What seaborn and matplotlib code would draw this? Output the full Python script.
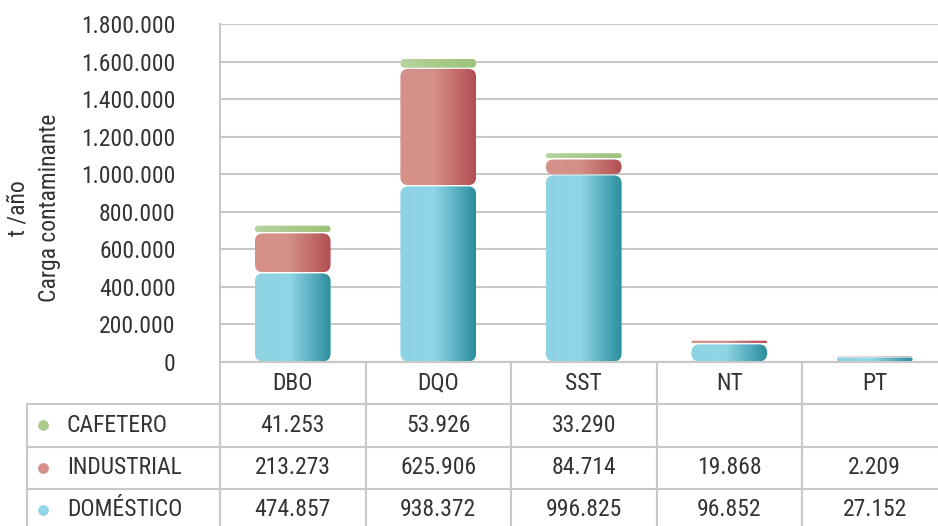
import matplotlib
matplotlib.use('Agg')
import matplotlib.pyplot as plt
import numpy as np
import pandas as pd
import seaborn as sns
from matplotlib import font_manager
from matplotlib.colors import LinearSegmentedColormap
from matplotlib.patches import FancyBboxPatch
from matplotlib.table import Table
from matplotlib.ticker import FuncFormatter, MultipleLocator

categorias = ['DBO', 'DQO', 'SST', 'NT', 'PT']
cafetero = [41253, 53926, 33290, None, None]
industrial = [213273, 625906, 84714, 19868, 2209]
domestico = [474857, 938372, 996825, 96852, 27152]

# orden de la tabla (arriba -> abajo) y orden de apilado (abajo -> arriba)
sectores = ['CAFETERO', 'INDUSTRIAL', 'DOMÉSTICO']
apilado = ['DOMÉSTICO', 'INDUSTRIAL', 'CAFETERO']
valores = {'CAFETERO': cafetero, 'INDUSTRIAL': industrial, 'DOMÉSTICO': domestico}

colores = {'CAFETERO': ['#b6d49e', '#aacb8c', '#9dc27b'],
           'INDUSTRIAL': ['#d5918a', '#d48f88', '#b24e51'],
           'DOMÉSTICO': ['#8dd3e3', '#90d6e6', '#2a8e9e']}

GRIS = '#c8c8c8'
TEXTO = '#333333'
TAM = 17


def miles(v):
    return '' if v is None else '{:,}'.format(int(v)).replace(',', '.')


sns.set_style('white')
disponibles = {f.name for f in font_manager.fontManager.ttflist}
fuente = next((f for f in ['Liberation Sans Narrow', 'Roboto Condensed', 'Roboto']
               if f in disponibles), 'DejaVu Sans')
plt.rcParams['font.family'] = [fuente, 'DejaVu Sans']

# dataframe largo con base y tope de cada tramo apilado
filas = []
for i, cat in enumerate(categorias):
    base = 0
    for sector in apilado:
        v = valores[sector][i]
        filas.append({'categoria': cat, 'sector': sector, 'valor': v,
                      'base': base, 'tope': base + (v or 0)})
        base += v or 0
df = pd.DataFrame(filas)

fig = plt.figure(figsize=(9.38, 5.26), dpi=100)
ax = fig.add_axes([220 / 938, 1 - 362 / 526, 727.5 / 938, 338 / 526])

sns.barplot(data=df, x='categoria', y='tope', hue='sector', hue_order=sectores,
            order=categorias, dodge=False, width=0.52, legend=False, ax=ax)

ax.set_ylim(0, 1800000)
ax.set_xlim(-0.5, 4.5)
ax.yaxis.set_major_locator(MultipleLocator(200000))
ax.yaxis.set_major_formatter(FuncFormatter(lambda v, p: miles(v)))
ax.tick_params(axis='y', length=0, pad=32, labelsize=TAM, labelcolor=TEXTO)
ax.set_xticks([])
ax.set_xlabel('')
ax.set_ylabel('')
ax.grid(axis='y', color=GRIS, lw=1.5)
ax.set_axisbelow(True)
for lado in ['top', 'right']:
    ax.spines[lado].set_visible(False)
for lado in ['left', 'bottom']:
    ax.spines[lado].set_color(GRIS)
    ax.spines[lado].set_linewidth(1.5)

# escala en pixeles para esquinas redondeadas y separaciones
p0 = ax.transData.transform((0, 0))
p1 = ax.transData.transform((1, 1))
px_x = p1[0] - p0[0]
px_y = p1[1] - p0[1]
gradiente = np.linspace(0, 1, 256).reshape(1, -1)

for sector, contenedor in zip(sectores, ax.containers):
    cmap = LinearSegmentedColormap.from_list(
        sector, list(zip([0, 0.45, 1], colores[sector])))
    for barra in contenedor:
        barra.set_visible(False)
        j = int(round(barra.get_x() + barra.get_width() / 2))
        fila = df[(df['categoria'] == categorias[j]) & (df['sector'] == sector)].iloc[0]
        if fila['valor'] is None or pd.isna(fila['valor']):
            continue
        x0, ancho = barra.get_x(), barra.get_width()
        alto_px = (fila['tope'] - fila['base']) * px_y
        hueco = min(0.6, max(0.0, (alto_px - 1.5) / 2))
        y0 = fila['base'] + hueco / px_y
        y1 = fila['tope'] - hueco / px_y
        h_px = (y1 - y0) * px_y
        radio = min(8.0, h_px / 2, ancho * px_x / 2)
        caja = FancyBboxPatch((x0, y0), ancho, y1 - y0,
                              boxstyle='round,pad=0,rounding_size={}'.format(radio / px_x),
                              mutation_aspect=px_x / px_y,
                              facecolor='none', edgecolor='none', transform=ax.transData)
        ax.add_patch(caja)
        im = ax.imshow(gradiente, cmap=cmap, aspect='auto', extent=(x0, x0 + ancho, y0, y1),
                       interpolation='bilinear', zorder=3)
        im.set_clip_path(caja)

ax.set_ylim(0, 1800000)
ax.set_xlim(-0.5, 4.5)

fig.text(34 / 938, 1 - 208 / 526, 't /año\nCarga contaminante', rotation=90,
         ha='center', va='center', multialignment='center', fontsize=TAM,
         color=TEXTO, linespacing=1.5)

# tabla de datos bajo el eje
w_et = 193 / 727.5
tabla = Table(ax, bbox=[-w_et, -0.5, 1 + w_et, 0.5])
w_col = 145.5 / 727.5
for c, cat in enumerate(categorias):
    tabla.add_cell(0, c + 1, w_col, 0.125, text=cat, loc='center')
for r, sector in enumerate(sectores):
    celda = tabla.add_cell(r + 1, 0, w_et, 0.125, text=sector, loc='left')
    celda.PAD = 0.207
    for c in range(len(categorias)):
        tabla.add_cell(r + 1, c + 1, w_col, 0.125, text=miles(valores[sector][c]), loc='center')
tabla.auto_set_font_size(False)
tabla.set_fontsize(TAM)
for (r, c), celda in tabla.get_celld().items():
    celda.set_edgecolor(GRIS)
    celda.set_linewidth(1.5)
    celda.get_text().set_color(TEXTO)
ax.add_table(tabla)

fig.canvas.draw()
renderer = fig.canvas.get_renderer()
for r, sector in enumerate(sectores):
    bb = tabla[r + 1, 0].get_window_extent(renderer)
    pos = fig.transFigure.inverted().transform((bb.x0 + 0.083 * bb.width, (bb.y0 + bb.y1) / 2))
    ax.scatter([pos[0]], [pos[1]], s=60, color=colores[sector][1], transform=fig.transFigure,
               clip_on=False, zorder=5, linewidths=0)

fig.savefig('out.png', dpi=100)
